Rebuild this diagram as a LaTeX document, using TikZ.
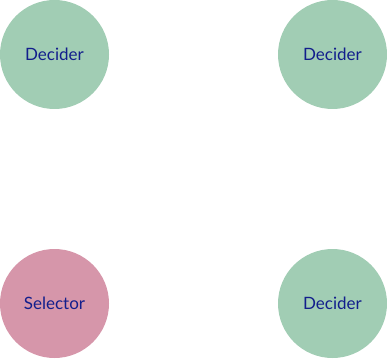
\documentclass[tikz,border=0pt]{standalone}
\usepackage{fontspec}
\setmainfont{Lato}
\definecolor{decidergreen}{RGB}{161,205,180}
\definecolor{selectorpink}{RGB}{214,150,170}
\definecolor{labelblue}{RGB}{18,30,140}
\begin{document}
\begin{tikzpicture}[x=1pt,y=-1pt,
  agent/.style={circle,minimum size=109pt,inner sep=0pt,text=labelblue,
    font=\fontsize{17}{20}\selectfont},
  decider/.style={agent,fill=decidergreen},
  selector/.style={agent,fill=selectorpink}]
  \useasboundingbox (0,0) rectangle (387,358);
  \node[decider]  (d1) at (54.5,54.5)  {Decider};
  \node[decider]  (d2) at (332.5,54.5) {Decider};
  \node[selector] (s)  at (54.5,303.5) {Selector};
  \node[decider]  (d3) at (332.5,303.5) {Decider};
\end{tikzpicture}
\end{document}
